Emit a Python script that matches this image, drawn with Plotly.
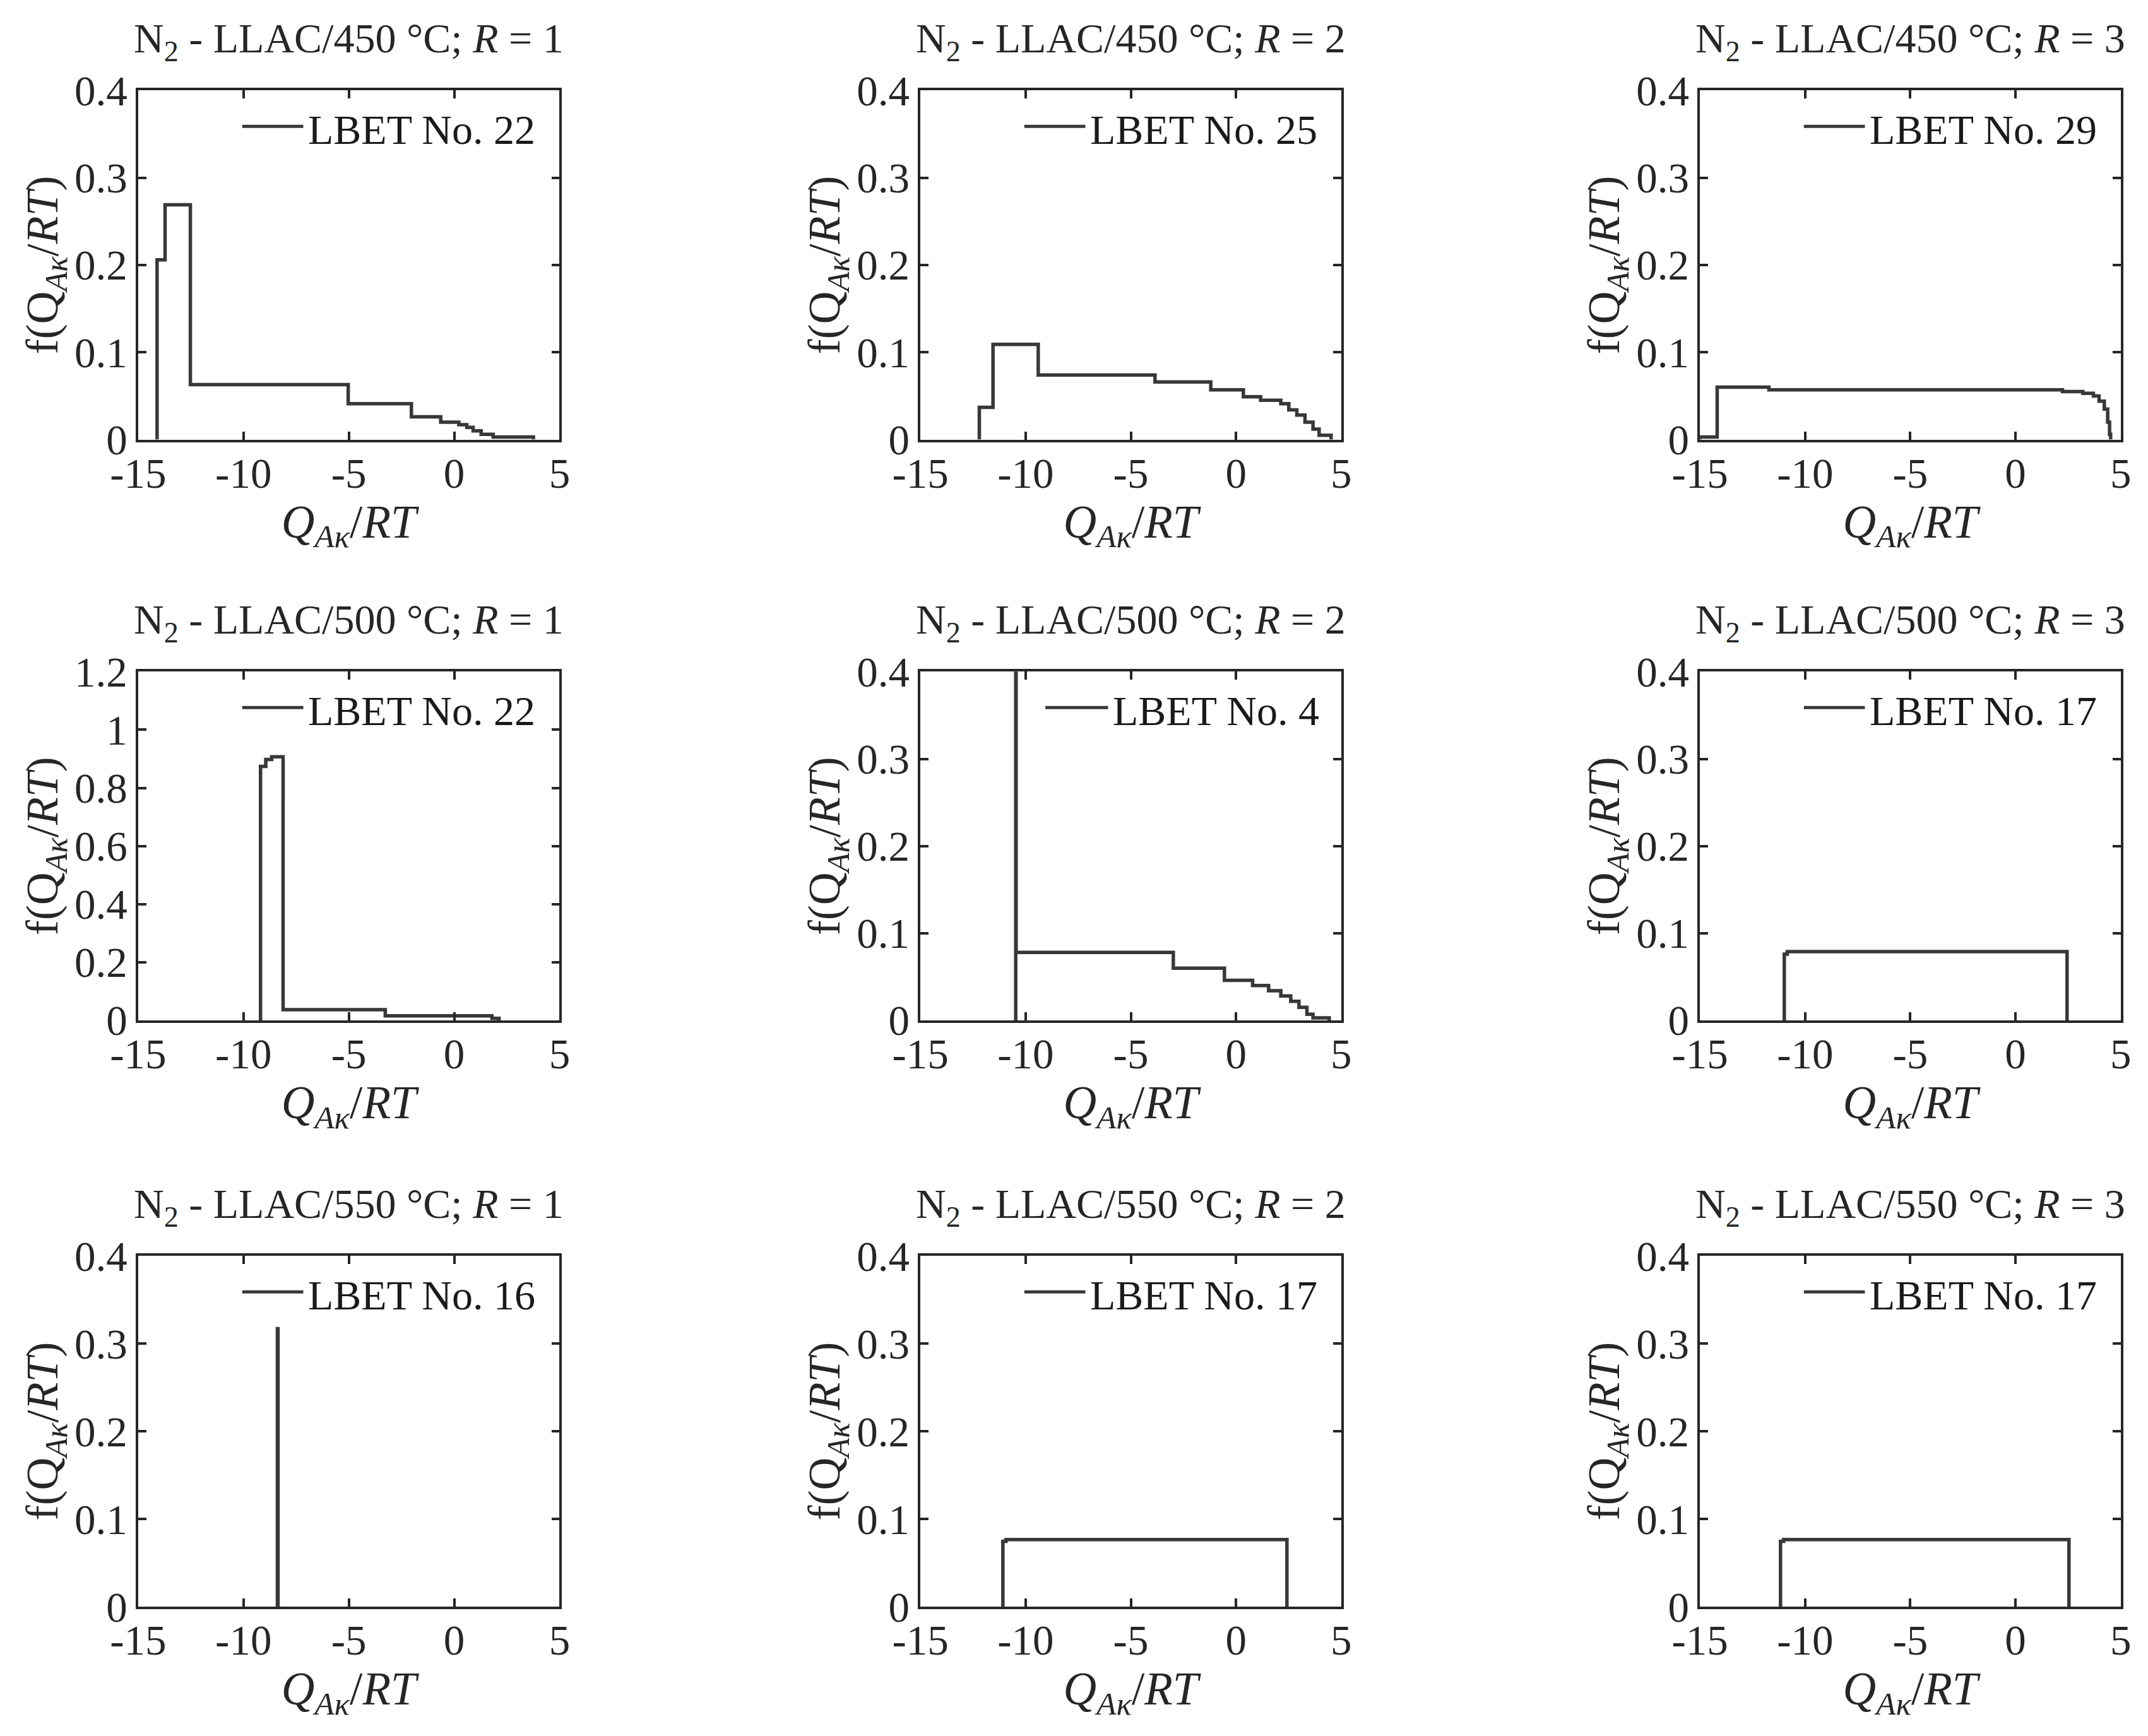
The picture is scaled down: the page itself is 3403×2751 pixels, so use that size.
import plotly.graph_objects as go

# ---------------- data ----------------
x_tick_vals = [-15, -10, -5, 0, 5]
x_tick_text = ["-15", "-10", "-5", "0", "5"]
temperatures = [450, 500, 550]
ratios = [1, 2, 3]
lbet_numbers = [22, 25, 29, 22, 4, 17, 16, 17, 17]

# step distributions: bin edges and the value on each bin
p1_edges = [-14.1, -13.72, -12.52, -5.03, -2.03, -0.64, 0.22, 0.6, 0.9, 1.28, 1.85, 3.76]
p1_values = [0.206, 0.269, 0.063, 0.041, 0.026, 0.020, 0.017, 0.014, 0.010, 0.006, 0.003]

p2_edges = [-12.2, -11.55, -9.4, -3.85, -1.2, 0.35, 1.17, 2.13, 2.51, 2.89, 3.28, 3.66, 3.95, 4.52]
p2_values = [0.037, 0.109, 0.074, 0.066, 0.057, 0.049, 0.045, 0.041, 0.034, 0.028, 0.020, 0.012, 0.005]

p3_edges = [-15.0, -14.18, -11.72, 2.23, 3.2, 3.7, 3.97, 4.22, 4.38, 4.47, 4.52]
p3_values = [0.003, 0.060, 0.057, 0.055, 0.053, 0.050, 0.044, 0.035, 0.020, 0.006]

p4_edges = [-9.19, -8.94, -8.66, -8.12, -3.27, 1.79, 2.13]
p4_values = [0.874, 0.898, 0.907, 0.037, 0.016, 0.007]

p5_edges = [-10.47, -10.45, -2.98, -0.55, 0.79, 1.55, 2.13, 2.6, 2.99, 3.37, 3.66, 4.43]
p5_values = [1.5, 0.078, 0.060, 0.046, 0.040, 0.034, 0.028, 0.022, 0.015, 0.007, 0.003]

p6_edges = [-10.99, -10.85, 2.45]
p6_values = [0.076, 0.079]

p7_edges = [-8.39, -8.36]
p7_values = [0.317]

p8_edges = [-11.08, -10.93, 2.42]
p8_values = [0.0745, 0.0765]

p9_edges = [-11.17, -11.02, 2.54]
p9_values = [0.0745, 0.0765]

all_edges = [p1_edges, p2_edges, p3_edges, p4_edges, p5_edges, p6_edges, p7_edges, p8_edges, p9_edges]
all_values = [p1_values, p2_values, p3_values, p4_values, p5_values, p6_values, p7_values, p8_values, p9_values]
y_max = [0.4, 0.4, 0.4, 1.2, 0.4, 0.4, 0.4, 0.4, 0.4]
y_step = [0.1, 0.1, 0.1, 0.2, 0.1, 0.1, 0.1, 0.1, 0.1]

# ---------------- style / layout ----------------
FONT = "Liberation Serif"
TXT = "#262626"
LINE = "#383838"
W, H = 3403, 2751
DX, DY = 8 / W, 8 / H   # compensate the page's default body margin
col_domains = [[0.0643 - DX, 0.2605 - DX], [0.4285 - DX, 0.6244 - DX], [0.7914 - DX, 0.9873 - DX]]
row_domains = [[0.7468 + DY, 0.9479 + DY], [0.4122 + DY, 0.6131 + DY], [0.0745 + DY, 0.2766 + DY]]

fig = go.Figure()
layout = dict(
    width=W, height=H,
    margin=dict(l=0, r=0, t=0, b=0, pad=0, autoexpand=False),
    paper_bgcolor="white", plot_bgcolor="white",
    font=dict(family=FONT, size=64, color=TXT),
    showlegend=False,
)
annotations = []
shapes = []

for i in range(9):
    r, c = divmod(i, 3)
    k = i + 1
    xa = "x" if k == 1 else f"x{k}"
    ya = "y" if k == 1 else f"y{k}"
    edges = all_edges[i]
    vals = all_values[i]
    xs = [edges[0]] + list(edges)
    ys = [0] + list(vals) + [0]
    name = f"LBET No. {lbet_numbers[i]}"
    fig.add_trace(go.Scatter(
        x=xs, y=ys, mode="lines", line=dict(shape="hv", color=LINE, width=5.5),
        name=name, xaxis=xa, yaxis=ya, hoverinfo="x+y",
    ))
    common = dict(
        showline=True, linewidth=3.5, linecolor=TXT, mirror="ticks",
        ticks="inside", ticklen=13, tickwidth=3.5, tickcolor=TXT,
        showgrid=False, zeroline=False, automargin=False,
        tickfont=dict(family=FONT, size=67, color=TXT),
    )
    layout["xaxis" if k == 1 else f"xaxis{k}"] = dict(
        common, domain=col_domains[c], anchor=ya, range=[-15, 5],
        tickmode="array", tickvals=x_tick_vals, ticktext=x_tick_text,
        ticklabelstandoff=-8,
        title=dict(text="<i>Q</i><sub><i>Aκ</i></sub>/<i>RT</i>",
                   font=dict(family=FONT, size=73, color=TXT), standoff=0),
    )
    ymax = y_max[i]
    layout["yaxis" if k == 1 else f"yaxis{k}"] = dict(
        common, domain=row_domains[r], anchor=xa, range=[0, ymax],
        tickmode="linear", tick0=0, dtick=y_step[i],
        title=dict(text="f(Q<sub><i>Aκ</i></sub>/<i>RT</i>)",
                   font=dict(family=FONT, size=72, color=TXT), standoff=4),
    )
    xdom = f"{xa} domain"
    ydom = f"{ya} domain"
    # subplot title
    annotations.append(dict(
        text=f"N<sub>2</sub> - LLAC/{temperatures[r]} °C; <i>R</i> = {ratios[c]}",
        xref=xdom, yref=ydom, x=0.5, y=1.0, xanchor="center", yanchor="bottom",
        yshift=34, showarrow=False, font=dict(family=FONT, size=66, color=TXT),
    ))
    # legend (line sample + label) in the upper right of each panel
    lx0, lx1 = (0.297, 0.446) if lbet_numbers[i] == 4 else (0.247, 0.392)
    shapes.append(dict(type="line", xref=xdom, yref=ydom, x0=lx0, x1=lx1,
                       y0=0.897, y1=0.897, line=dict(color=LINE, width=5)))
    annotations.append(dict(
        text=name, xref=xdom, yref=ydom, x=lx1 + 0.008, y=0.888,
        xanchor="left", yanchor="middle", showarrow=False,
        font=dict(family=FONT, size=66, color="#1a1a1a"),
    ))

layout["annotations"] = annotations
layout["shapes"] = shapes
fig.update_layout(**layout)
fig.write_html("out.html")
